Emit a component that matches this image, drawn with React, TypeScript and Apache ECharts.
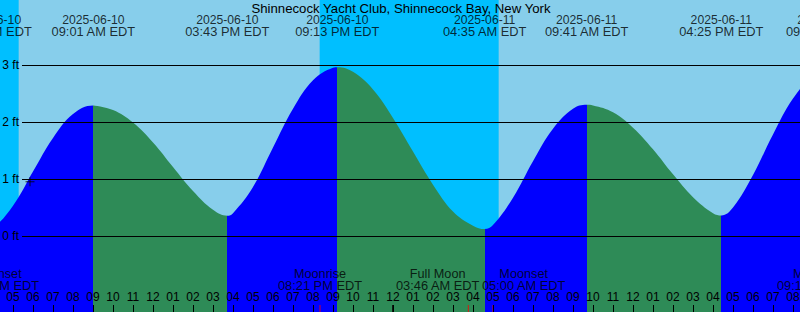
import React, { useEffect, useRef } from 'react';
import * as echarts from 'echarts';

const chartTitle = 'Shinnecock Yacht Club, Shinnecock Bay, New York';

// High / low tide events
const tideTimes = [
  '2025-06-10 03:51', '2025-06-10 09:01', '2025-06-10 15:43', '2025-06-10 21:13',
  '2025-06-11 04:35', '2025-06-11 09:41', '2025-06-11 16:25', '2025-06-11 21:45',
];
const tideHeights = [0.15, 2.3, 0.365, 2.97, 0.13, 2.31, 0.37, 2.9];

// Tide curve, hours after 2025-06-10 00:00 EDT
const curveHours = [
  4, 5, 6, 7, 8, 9, 10, 11, 12, 13, 14, 15, 16, 17, 18, 19, 20, 21, 22, 23, 24,
  25, 26, 27, 28, 29, 30, 31, 32, 33, 34, 35, 36, 37, 38, 39, 40, 41, 42, 43, 44, 45,
];
const curveHeights = [
  0.16, 0.54, 1.14, 1.73, 2.15, 2.3, 2.22, 2.0, 1.65, 1.22, 0.8, 0.47, 0.41, 0.87, 1.56,
  2.24, 2.74, 2.96, 2.89, 2.58, 2.08, 1.49, 0.91, 0.44, 0.19, 0.2, 0.68, 1.32, 1.89, 2.24,
  2.3, 2.18, 1.91, 1.53, 1.09, 0.69, 0.41, 0.51, 1.08, 1.79, 2.42, 2.81,
];

const sunsetTimes = ['2025-06-09 20:19', '2025-06-10 20:20', '2025-06-11 20:21'];
const sunriseTimes = ['2025-06-10 05:17', '2025-06-11 05:17', '2025-06-12 05:17'];

const moonNames = ['Moonset', 'Moonrise', 'Full Moon', 'Moonset', 'Moonrise'];
const moonTimes = [
  '2025-06-10 04:13', '2025-06-10 20:21', '2025-06-11 03:46', '2025-06-11 05:00', '2025-06-11 21:18',
];

const nowTime = '2025-06-10 05:51';
const nowHeight = 0.96;

const X_MIN = 3;
const X_MAX = 46;
const PX_PER_HOUR = 20;
const OFFSET = 27;
const LABEL_W = 86;
const FONT = "'Liberation Sans', Arial, sans-serif";
const COLORS = {
  day: '#87CEEB',
  night: '#00BFFF',
  rising: '#0000FF',
  falling: '#2E8B57',
};

function toHours(s: string): number {
  const d = parseInt(s.slice(8, 10), 10) - 10;
  const hh = parseInt(s.slice(11, 13), 10);
  const mm = parseInt(s.slice(14, 16), 10);
  return d * 24 + hh + mm / 60;
}
function pad2(n: number): string {
  return (n < 10 ? '0' : '') + n;
}
function fmtTime(s: string): string {
  const hh = parseInt(s.slice(11, 13), 10);
  const mm = s.slice(14, 16);
  const h12 = hh % 12 === 0 ? 12 : hh % 12;
  return pad2(h12) + ':' + mm + ' ' + (hh < 12 ? 'AM' : 'PM') + ' EDT';
}

export default function App() {
  const ref = useRef<HTMLDivElement>(null);
  useEffect(() => {
    if (!ref.current) return;
    const chart = echarts.init(ref.current, undefined, { renderer: 'svg' });

    const tideH = tideTimes.map(toHours);
    const pts: number[][] = [];
    curveHours.forEach((h, i) => pts.push([h, curveHeights[i]]));
    tideH.forEach((h, i) => pts.push([h, tideHeights[i]]));
    pts.sort((a, b) => a[0] - b[0]);

    const pieces: any[] = [];
    pieces.push({ lte: tideH[0], color: tideHeights[0] < tideHeights[1] ? COLORS.falling : COLORS.rising });
    for (let i = 1; i < tideH.length; i++) {
      pieces.push({
        gt: tideH[i - 1],
        lte: tideH[i],
        color: tideHeights[i] > tideHeights[i - 1] ? COLORS.rising : COLORS.falling,
      });
    }
    const last = tideH.length - 1;
    pieces.push({ gt: tideH[last], color: tideHeights[last] > tideHeights[last - 1] ? COLORS.falling : COLORS.rising });

    const nights = sunsetTimes.map((s, i) => [toHours(s), toHours(sunriseTimes[i])]);

    const midnights: number[][] = [];
    for (let h = X_MIN; h <= X_MAX; h++) if (h % 24 === 0) midnights.push([h, 308.5]);

    const nowH = toHours(nowTime);

    // push apart overlapping moon labels (pixel offsets)
    const moonH = moonTimes.map(toHours);
    const shifts = moonH.map(() => 0);
    for (let i = 0; i + 1 < moonH.length; i++) {
      const gap = (moonH[i + 1] - moonH[i]) * PX_PER_HOUR;
      if (gap < LABEL_W) {
        const half = (LABEL_W - gap) / 2;
        shifts[i] -= half;
        shifts[i + 1] += half;
      }
    }

    const rich = {
      d: { fontSize: 12.2, lineHeight: 12, fontFamily: FONT, color: '#000' },
      t: { fontSize: 12.85, lineHeight: 12, fontFamily: FONT, color: '#000' },
      n: { fontSize: 12.7, lineHeight: 12, fontFamily: FONT, color: '#000' },
    };

    chart.setOption({
      animation: false,
      backgroundColor: COLORS.day,
      textStyle: { fontFamily: FONT },
      grid: [
        { left: 0, right: 0, top: 0, bottom: 0, containLabel: false, outerBoundsMode: 'none' },
        { left: 22 + OFFSET, right: 0, top: 65, height: 171, containLabel: false, outerBoundsMode: 'none' },
      ],
      xAxis: [
        {
          type: 'value', gridIndex: 0, min: X_MIN, max: X_MAX, interval: 1, z: 10,
          axisLine: { show: false, onZero: false },
          axisTick: { show: true, inside: true, length: 7, lineStyle: { color: '#000', width: 1 } },
          axisLabel: {
            show: true, inside: true, margin: 9, color: '#000', fontSize: 12, fontFamily: FONT,
            formatter: (v: number) => {
              const h = ((Math.round(v) % 24) + 24) % 24;
              return pad2(h % 12 === 0 ? 12 : h % 12);
            },
          },
          splitLine: { show: false },
        },
        { type: 'value', gridIndex: 1, min: 0, max: 1, show: false, axisLine: { onZero: false } },
      ],
      yAxis: [
        { type: 'value', gridIndex: 0, min: -75.5 / 57, max: 236.5 / 57, show: false, axisLine: { onZero: false } },
        { type: 'value', gridIndex: 0, min: 0, max: 312, inverse: true, show: false, axisLine: { onZero: false } },
        {
          type: 'value', gridIndex: 1, min: 0, max: 3, interval: 1, z: 10,
          axisLine: { show: false, onZero: false }, axisTick: { show: false },
          axisLabel: { formatter: '{value} ft', margin: 3, color: '#000', fontSize: 12, fontFamily: FONT },
          splitLine: { show: true, lineStyle: { color: '#000', width: 1 } },
        },
      ],
      visualMap: { type: 'piecewise', show: false, dimension: 0, seriesIndex: 1, pieces },
      graphic: [
        {
          type: 'text', x: 401 + OFFSET, y: 8, z: 100,
          style: { text: chartTitle, fill: '#000', font: `13.2px ${FONT}`, textAlign: 'center', textVerticalAlign: 'middle' },
        },
      ],
      series: [
        {
          type: 'custom', xAxisIndex: 0, yAxisIndex: 0, z: 1, clip: false,
          data: nights,
          encode: { x: [0, 1] },
          renderItem: (params: any, api: any) => {
            const s = api.coord([api.value(0), 0]);
            const e = api.coord([api.value(1), 0]);
            return {
              type: 'rect',
              shape: { x: s[0], y: params.coordSys.y, width: e[0] - s[0], height: params.coordSys.height },
              style: { fill: COLORS.night },
            };
          },
        },
        {
          type: 'line', xAxisIndex: 0, yAxisIndex: 0, z: 2, smooth: 0.4, showSymbol: false,
          data: pts,
          lineStyle: { width: 0 },
          areaStyle: { origin: 'start', opacity: 1 },
        },
        {
          type: 'scatter', xAxisIndex: 0, yAxisIndex: 1, z: 5, clip: false, symbolSize: 0,
          data: tideH.map((h) => [h, 25.5]),
          label: {
            show: true, position: 'inside', rich,
            formatter: (p: any) =>
              '{d|' + tideTimes[p.dataIndex].slice(0, 10) + '}\n{t|' + fmtTime(tideTimes[p.dataIndex]) + '}',
          },
        },
        {
          type: 'scatter', xAxisIndex: 0, yAxisIndex: 1, z: 5, clip: false, symbolSize: 0,
          data: moonH.map((h, i) => ({
            value: [h, 279.5],
            label: { offset: [shifts[i], 0] },
          })),
          label: {
            show: true, position: 'inside', rich,
            formatter: (p: any) => '{n|' + moonNames[p.dataIndex] + '}\n{t|' + fmtTime(moonTimes[p.dataIndex]) + '}',
          },
        },
        {
          type: 'scatter', xAxisIndex: 0, yAxisIndex: 1, z: 6, clip: false, symbol: 'rect', symbolSize: [1, 7],
          itemStyle: { color: '#FF0000' },
          data: moonH.map((h) => [h, 308.5]),
        },
        {
          type: 'scatter', xAxisIndex: 0, yAxisIndex: 1, z: 6, clip: false, symbol: 'rect', symbolSize: [2, 7],
          itemStyle: { color: '#000' },
          data: midnights,
        },
        {
          type: 'scatter', xAxisIndex: 0, yAxisIndex: 0, z: 6, clip: false, symbol: 'rect',
          itemStyle: { color: '#000' },
          data: [
            { value: [nowH, nowHeight], symbolSize: [9, 1] },
            { value: [nowH, nowHeight], symbolSize: [1, 9] },
          ],
        },
      ],
    });
    return () => chart.dispose();
  }, []);

  return (
    <div style={{ position: 'fixed', left: 0, top: 0, width: 800, height: 312, overflow: 'hidden' }}>
      <div ref={ref} style={{ position: 'absolute', left: -OFFSET, top: 0, width: 860, height: 312 }} />
    </div>
  );
}
